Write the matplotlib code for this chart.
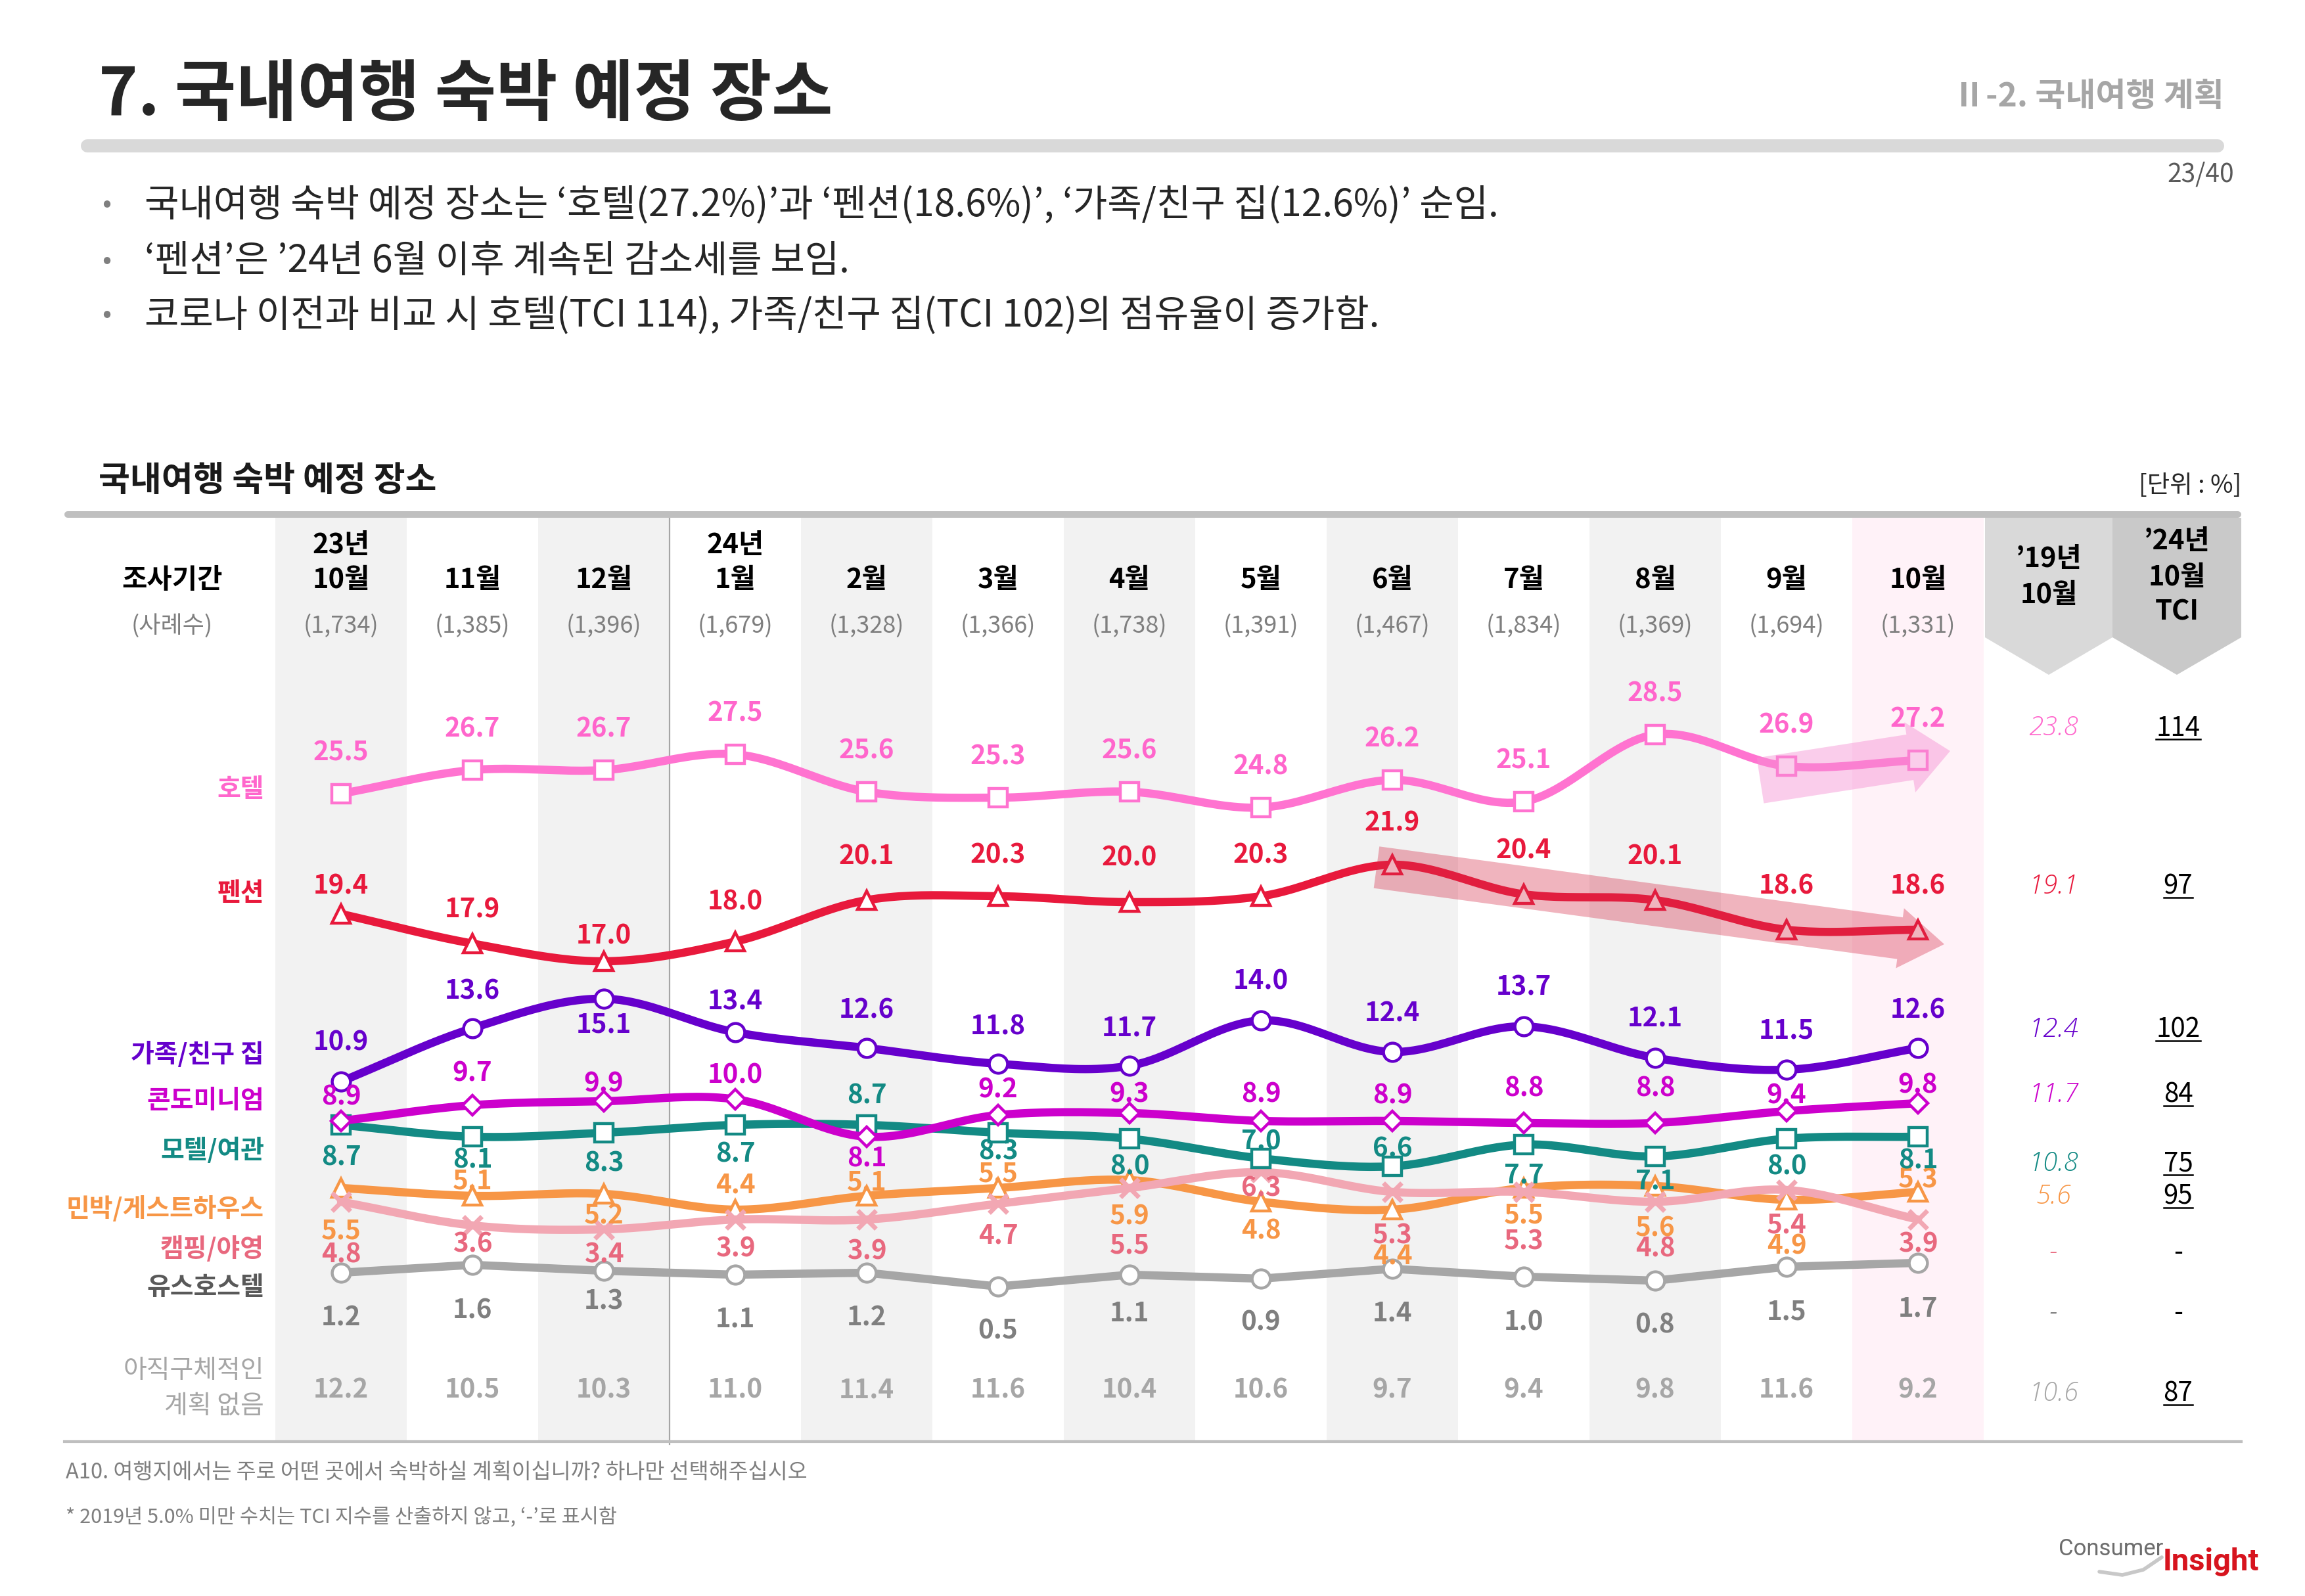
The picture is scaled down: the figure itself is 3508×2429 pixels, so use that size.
import numpy as np
import matplotlib
matplotlib.use('Agg')
import matplotlib.pyplot as plt
from matplotlib.patches import Polygon, Rectangle

plt.rcParams['font.family'] = ['Noto Sans CJK KR', 'DejaVu Sans']

# ---------------- data ----------------
periods = ['23년\n10월', '11월', '12월', '24년\n1월', '2월', '3월', '4월',
           '5월', '6월', '7월', '8월', '9월', '10월']
sample_n = ['(1,734)', '(1,385)', '(1,396)', '(1,679)', '(1,328)', '(1,366)', '(1,738)',
            '(1,391)', '(1,467)', '(1,834)', '(1,369)', '(1,694)', '(1,331)']

hotel = [25.5, 26.7, 26.7, 27.5, 25.6, 25.3, 25.6, 24.8, 26.2, 25.1, 28.5, 26.9, 27.2]
pension = [19.4, 17.9, 17.0, 18.0, 20.1, 20.3, 20.0, 20.3, 21.9, 20.4, 20.1, 18.6, 18.6]
family = [10.9, 13.6, 15.1, 13.4, 12.6, 11.8, 11.7, 14.0, 12.4, 13.7, 12.1, 11.5, 12.6]
condo = [8.9, 9.7, 9.9, 10.0, 8.1, 9.2, 9.3, 8.9, 8.9, 8.8, 8.8, 9.4, 9.8]
motel = [8.7, 8.1, 8.3, 8.7, 8.7, 8.3, 8.0, 7.0, 6.6, 7.7, 7.1, 8.0, 8.1]
guesthouse = [5.5, 5.1, 5.2, 4.4, 5.1, 5.5, 5.9, 4.8, 4.4, 5.5, 5.6, 4.9, 5.3]
camping = [4.8, 3.6, 3.4, 3.9, 3.9, 4.7, 5.5, 6.3, 5.3, 5.3, 4.8, 5.4, 3.9]
youth = [1.2, 1.6, 1.3, 1.1, 1.2, 0.5, 1.1, 0.9, 1.4, 1.0, 0.8, 1.5, 1.7]
no_plan = [12.2, 10.5, 10.3, 11.0, 11.4, 11.6, 10.4, 10.6, 9.7, 9.4, 9.8, 11.6, 9.2]

row_names = ['호텔', '펜션', '가족/친구 집', '콘도미니엄', '모텔/여관',
             '민박/게스트하우스', '캠핑/야영', '유스호스텔', '아직구체적인\n계획 없음']
oct2019 = ['23.8', '19.1', '12.4', '11.7', '10.8', '5.6', '-', '-', '10.6']
tci = ['114', '97', '102', '84', '75', '95', '-', '-', '87']

# ---------------- layout (pixels of the 3508x2429 page) ----------------
W, H = 3508, 2429
X0, DX = 519, 200      # centre of first column, column pitch
Y0, DY = 1973, 30      # pixel row of 0 %, pixels per 1 %


def P(x, y):
    return (x - X0) / DX, (Y0 - y) / DY


def T(x, y, s, **kw):
    kw.setdefault('va', 'center')
    return ax.text(*P(x, y), s, **kw)


def smooth(xs, ys, n=24):
    x = np.asarray(xs, float)
    y = np.asarray(ys, float)
    px = np.r_[2 * x[0] - x[1], x, 2 * x[-1] - x[-2]]
    py = np.r_[2 * y[0] - y[1], y, 2 * y[-1] - y[-2]]
    t = np.linspace(0, 1, n, endpoint=False)
    ox, oy = [], []
    for i in range(1, len(px) - 2):
        for arr, out in ((px, ox), (py, oy)):
            p0, p1, p2, p3 = arr[i - 1:i + 3]
            out.extend(0.5 * (2 * p1 + (-p0 + p2) * t + (2 * p0 - 5 * p1 + 4 * p2 - p3) * t ** 2
                              + (-p0 + 3 * p1 - 3 * p2 + p3) * t ** 3))
    ox.append(x[-1])
    oy.append(y[-1])
    return ox, oy


def arrow_poly(tail, tip, shaft_w, head_w, head_len):
    t = np.array(tail, float)
    h = np.array(tip, float)
    u = (h - t) / np.hypot(*(h - t))
    n = np.array([-u[1], u[0]])
    b = h - u * head_len
    pts = [t + n * shaft_w / 2, b + n * shaft_w / 2, b + n * head_w / 2, h,
           b - n * head_w / 2, b - n * shaft_w / 2, t - n * shaft_w / 2]
    return [P(*p) for p in pts]


fig = plt.figure(figsize=(W / 100, H / 100), dpi=100, facecolor='white')
ax = fig.add_axes([0, 0, 1, 1])
ax.set_xlim(P(0, 0)[0], P(W, 0)[0])
ax.set_ylim(P(0, H)[1], P(0, 0)[1])
ax.axis('off')

# ---------------- page header ----------------
T(150, 146, '7. 국내여행 숙박 예정 장소', fontsize=73, fontweight='heavy', color='#262626')
T(3385, 148, 'Ⅱ-2. 국내여행 계획', fontsize=36, fontweight='bold', color='#A6A6A6', ha='right')
ax.plot(*zip(P(133, 222), P(3375, 222)), color='#D9D9D9', lw=14.4, solid_capstyle='round')
T(3400, 266, '23/40', fontsize=28, color='#595959', ha='right')

bullets = ['국내여행 숙박 예정 장소는 ‘호텔(27.2%)’과 ‘펜션(18.6%)’, ‘가족/친구 집(12.6%)’ 순임.',
           '‘펜션’은 ’24년 6월 이후 계속된 감소세를 보임.',
           '코로나 이전과 비교 시 호텔(TCI 114), 가족/친구 집(TCI 102)의 점유율이 증가함.']
for yb, s in zip([312, 398, 480], bullets):
    T(162, yb, '•', fontsize=30, color='#7F7F7F', ha='center')
    T(220, yb, s, fontsize=41, color='#262626')

T(150, 732, '국내여행 숙박 예정 장소', fontsize=37.5, fontweight='bold', color='#1a1a1a')
T(3411, 740, '[단위 : %]', fontsize=27, color='#262626', ha='right')

# ---------------- table frame ----------------
top, bottom = 788, 2192
y_top, y_bot = P(0, top)[1], P(0, bottom)[1]
for i in range(len(periods)):
    if i == len(periods) - 1:
        col = '#FFF2F8'
    elif i % 2 == 0:
        col = '#F2F2F2'
    else:
        continue
    ax.add_patch(Rectangle((i - 0.5, y_bot), 1, y_top - y_bot, color=col, lw=0, zorder=0))

ax.plot(*zip(P(103, 783), P(3406, 783)), color='#BFBFBF', lw=7.2, solid_capstyle='round', zorder=2)
ax.plot(*zip(P(98, 2194), P(3411, 2194)), color='#BFBFBF', lw=3, zorder=2)
ax.plot([2.5, 2.5], [P(0, top)[1], P(0, 2198)[1]], color='#A6A6A6', lw=1.6, zorder=1)

# comparison column headers (chevrons)
for xl, xr, col in [(3021, 3215, '#D9D9D9'), (3215, 3411, '#C9C9C9')]:
    xc = (xl + xr) / 2
    ax.add_patch(Polygon([P(xl, 788), P(xr, 788), P(xr, 970), P(xc, 1027), P(xl, 970)],
                         closed=True, color=col, lw=0, zorder=1))
for s, yy in zip(['’19년', '10월'], [851, 906]):
    T(3118, yy, s, fontsize=30, fontweight='bold', color='black', ha='center', zorder=3)
for s, yy in zip(['’24년', '10월', 'TCI'], [824, 879, 932]):
    T(3313, yy, s, fontsize=30, fontweight='bold', color='black', ha='center', zorder=3)

# period headers
T(262, 883, '조사기간', fontsize=30, fontweight='bold', color='black', ha='center')
T(262, 953, '(사례수)', fontsize=26, color='#7F7F7F', ha='center')
for i, (lab, n) in enumerate(zip(periods, sample_n)):
    xc = X0 + DX * i
    lines = lab.split('\n')
    ys = [830, 883] if len(lines) == 2 else [883]
    for s, yy in zip(lines, ys):
        T(xc, yy, s, fontsize=30, fontweight='bold', color='black', ha='center')
    T(xc, 953, n, fontsize=26, color='#7F7F7F', ha='center')

# ---------------- series ----------------
x = np.arange(len(periods))
series = [
    # values, line colour, marker, label colour, smoothed, label offsets (px up), z
    (youth, '#A6A6A6', 'o', '#7F7F7F', False,
     [-69, -70, -47, -68, -69, -68, -59, -67, -68, -70, -68, -69, -70], 3),
    (guesthouse, '#F79646', '^', '#F79646', True,
     [-66, 22, -34, 37, 20, 21, -56, -45, -71, -42, -65, -71, 18], 4),
    (camping, '#F2A7B3', 'x', '#E8687E', True,
     [-81, -29, -39, -45, -49, -49, -88, -25, -67, -76, -72, -54, -38], 5),
    (motel, '#138A84', 's', '#138A84', True,
     [-50, -36, -47, -45, 44, -29, -43, 25, 26, -47, -38, -43, -37], 6),
    (condo, '#CC00CC', 'D', '#CC00CC', True,
     [36, 48, 26, 36, -34, 38, 28, 40, 38, 52, 52, 23, 27], 7),
    (family, '#6600CC', 'o', '#6600CC', True,
     [59, 56, -40, 46, 57, 56, 57, 59, 58, 59, 59, 59, 57], 8),
    (pension, '#E8193C', '^', '#E8193C', True,
     [42, 51, 38, 60, 66, 62, 67, 62, 63, 66, 66, 66, 66], 9),
    (hotel, '#FF73D0', 's', '#FF66CC', True, [62] * 13, 10),
]
for vals, lc, mk, tc, sm, offs, z in series:
    sx, sy = smooth(x, vals) if sm else (x, vals)
    ax.plot(sx, sy, color=lc, lw=9, zorder=z, solid_capstyle='round', solid_joinstyle='round')
    if mk == 'x':
        ax.plot(x, vals, ls='none', marker='x', ms=20, mec=lc, mew=5, zorder=z + 0.5)
    else:
        ms = 15 if mk == 'D' else 20
        ax.plot(x, vals, ls='none', marker=mk, ms=ms, mfc='white', mec=lc, mew=3.2, zorder=z + 0.5)
    for xi, v, o in zip(x, vals, offs):
        ax.annotate(f'{v:.1f}', (xi, v), xytext=(0, o * 0.72), textcoords='offset points',
                    ha='center', va='center', fontsize=29, fontweight='bold', color=tc, zorder=20)

for xi, v in zip(x, no_plan):
    ax.text(xi, P(0, 2116)[1], f'{v:.1f}', ha='center', va='center', fontsize=29,
            fontweight='bold', color='#A6A6A6')

# trend arrows
ax.add_patch(Polygon(arrow_poly((2679, 1188), (2968, 1143), 70, 108, 62),
                     closed=True, color='#F690D3', alpha=0.45, lw=0, zorder=25))
ax.add_patch(Polygon(arrow_poly((2095, 1320), (2959, 1437), 64, 92, 68),
                     closed=True, color='#D42945', alpha=0.35, lw=0, zorder=25))

# ---------------- row labels and comparison columns ----------------
row_y = [1202, 1360, 1605, 1675, 1751, 1840, 1901, 1959, None]
row_c = ['#FF66CC', '#E8193C', '#6600CC', '#CC00CC', '#138A84', '#F79646', '#E8687E', '#595959', '#A6A6A6']
for name, yy, c in zip(row_names[:-1], row_y, row_c):
    T(402, yy, name, fontsize=28, fontweight='bold', color=c, ha='right')
for s, yy in zip(row_names[-1].split('\n'), [2086, 2140]):
    T(402, yy, s, fontsize=28, color=row_c[-1], ha='right')

val_y = [1108, 1349, 1567, 1666, 1771, 1821, 1906, 1998, 2121]
tci_texts = []
for s, t, yy, c in zip(oct2019, tci, val_y, row_c):
    T(3125, yy, s, fontsize=29, color=c, ha='center', style='italic',
      family=['Open Sans', 'DejaVu Sans'], fontweight='light')
    tt = T(3315, yy, t, fontsize=29, color='black', ha='center')
    if t != '-':
        tci_texts.append(tt)

fig.canvas.draw()
renderer = fig.canvas.get_renderer()
inv = ax.transData.inverted()
for tt in tci_texts:
    bb = tt.get_window_extent(renderer)
    (x0, y0), (x1, _) = inv.transform([(bb.x0, bb.y0 + 4), (bb.x1, bb.y0 + 4)])
    ax.plot([x0, x1], [y0, y0], color='black', lw=1.8, zorder=3)

# ---------------- footnotes & logo ----------------
T(100, 2241, 'A10. 여행지에서는 주로 어떤 곳에서 숙박하실 계획이십니까? 하나만 선택해주십시오',
  fontsize=23.5, color='#7F7F7F')
T(100, 2310, '* 2019년 5.0% 미만 수치는 TCI 지수를 산출하지 않고, ‘-’로 표시함',
  fontsize=22, color='#7F7F7F')

ax.text(*P(3133, 2367), 'Consumer', fontsize=25, color='#6D6D6D', va='baseline',
        family=['Roboto', 'DejaVu Sans'])
ax.text(*P(3292, 2390), 'Insight', fontsize=34, fontweight='bold', color='#D7141E',
        va='baseline', family=['Roboto', 'DejaVu Sans'])
sw = [P(3195, 2392), P(3230, 2397), P(3262, 2389), P(3290, 2370)]
ax.plot(*zip(*sw), color='#C8C8C8', lw=4, solid_capstyle='round')

fig.savefig('out.png', dpi=100, facecolor='white')
